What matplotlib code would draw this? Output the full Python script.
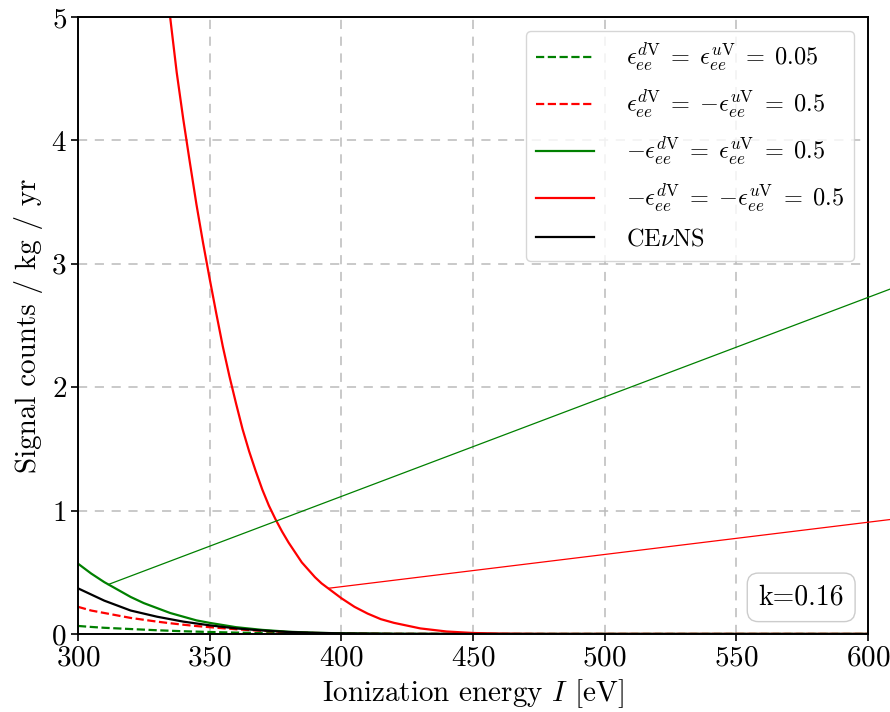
import matplotlib
matplotlib.use("Agg")
import matplotlib.pyplot as plt

plt.rcParams.update({
    "font.family": "cmr10",
    "mathtext.fontset": "cm",
    "axes.formatter.use_mathtext": True,
    "axes.unicode_minus": False,
})

# Ionization-energy grid (eV) and signal rates (counts / kg / yr)
energy = [300, 305, 310, 315, 320, 325, 330, 335, 340, 345, 350,
          360, 370, 380, 390, 400, 420, 450, 500, 600]
green_dashed = [0.065, 0.057, 0.05, 0.045, 0.04, 0.035, 0.03, 0.026, 0.022, 0.019, 0.016,
                0.011, 0.008, 0.005, 0.003, 0.002, 0.0005, 0, 0, 0]
red_dashed = [0.22, 0.19, 0.17, 0.15, 0.13, 0.115, 0.10, 0.087, 0.075, 0.064, 0.055,
              0.038, 0.025, 0.015, 0.008, 0.004, 0.001, 0, 0, 0]
green_solid = [0.57, 0.49, 0.42, 0.36, 0.30, 0.25, 0.21, 0.17, 0.14, 0.11, 0.09,
               0.055, 0.033, 0.018, 0.010, 0.005, 0.001, 0, 0, 0]
cevns = [0.37, 0.32, 0.27, 0.23, 0.19, 0.165, 0.14, 0.12, 0.10, 0.085, 0.07,
         0.045, 0.028, 0.016, 0.009, 0.005, 0.001, 0, 0, 0]

energy_red = [330, 335, 337.5, 340, 342.5, 345, 347.5, 350, 352.5, 355, 357.5, 360,
              362.5, 365, 367.5, 370, 372.5, 375, 377.5, 380, 382.5, 385, 387.5, 390,
              392.5, 395, 397.5, 400, 405, 410, 415, 420, 430, 440, 450, 460, 470, 480,
              500, 550, 600]
red_solid = [6.0, 5.0, 4.55, 4.17, 3.82, 3.48, 3.17, 2.88, 2.60, 2.33, 2.09, 1.87,
             1.66, 1.48, 1.32, 1.17, 1.04, 0.93, 0.83, 0.74, 0.66, 0.58, 0.52, 0.46,
             0.41, 0.37, 0.33, 0.29, 0.22, 0.165, 0.12, 0.09, 0.045, 0.02, 0.008, 0.003,
             0.001, 0.0, 0.0, 0.0, 0.0]

labels = [
    r"$\epsilon_{ee}^{d\mathrm{V}} \;=\; \epsilon_{ee}^{u\mathrm{V}} \;=\; 0.05$",
    r"$\epsilon_{ee}^{d\mathrm{V}} \;=\; {-}\epsilon_{ee}^{u\mathrm{V}} \;=\; 0.5$",
    r"$-\epsilon_{ee}^{d\mathrm{V}} \;=\; \epsilon_{ee}^{u\mathrm{V}} \;=\; 0.5$",
    r"$-\epsilon_{ee}^{d\mathrm{V}} \;=\; {-}\epsilon_{ee}^{u\mathrm{V}} \;=\; 0.5$",
    r"CE$\nu$NS",
]

# Points the callout lines start from
green_callout = (311.4, 0.40)
red_callout = (395, 0.37)

fig = plt.figure(figsize=(8.9, 7.12), dpi=100)
ax = fig.add_axes([0.0876, 0.1096, 0.8877, 0.8665])

lw = 1.6
ax.plot(energy, green_dashed, color="green", ls="--", lw=lw, label=labels[0])
ax.plot(energy, red_dashed, color="red", ls="--", lw=lw, label=labels[1])
ax.plot(energy, green_solid, color="green", lw=lw, label=labels[2])
ax.plot(energy_red, red_solid, color="red", lw=lw, label=labels[3])
ax.plot(energy, cevns, color="black", lw=lw, label=labels[4])

ax.annotate("", xy=green_callout, xytext=(640, 3.05), xycoords="data",
            arrowprops=dict(arrowstyle="-", color="green", lw=0.9, shrinkA=0, shrinkB=0),
            annotation_clip=False)
ax.annotate("", xy=red_callout, xytext=(640, 1.01), xycoords="data",
            arrowprops=dict(arrowstyle="-", color="red", lw=0.9, shrinkA=0, shrinkB=0),
            annotation_clip=False)

ax.set_xlim(300, 600)
ax.set_ylim(0, 5)
ax.set_xticks([300, 350, 400, 450, 500, 550, 600])
ax.set_yticks([0, 1, 2, 3, 4, 5])
ax.grid(True, ls=(0, (6, 5)), color="#bbbbbb", lw=1.1)
ax.set_axisbelow(True)
for s in ax.spines.values():
    s.set_linewidth(1.4)
ax.tick_params(labelsize=21, length=5, width=1.2, direction="out", pad=3)

ax.set_xlabel(r"Ionization energy $I$ [eV]", fontsize=21, labelpad=4)
ax.set_ylabel(r"Signal counts / kg / yr", fontsize=21, labelpad=6)

leg = ax.legend(loc="upper right", fontsize=17.5, frameon=True, fancybox=True,
                framealpha=0.8, edgecolor="#cccccc", handlelength=2.4,
                handletextpad=1.3, borderaxespad=0.58, labelspacing=0.55)

ax.text(0.9696, 0.038, "k=0.16", transform=ax.transAxes, ha="right", va="bottom",
        fontsize=20,
        bbox=dict(boxstyle="round,pad=0.4", facecolor="white", edgecolor="#cccccc", lw=1))

fig.savefig("out.png", dpi=100)
